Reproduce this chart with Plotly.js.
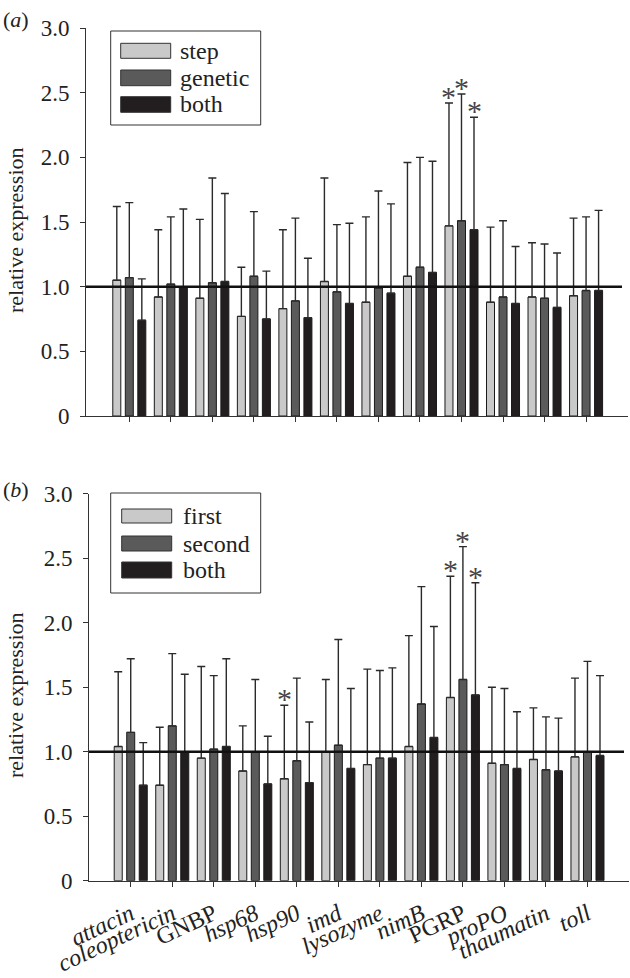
<!DOCTYPE html>
<html>
<head>
<meta charset="utf-8">
<script src="https://cdn.plot.ly/plotly-3.0.1.min.js"></script>
<style>html,body{margin:0;padding:0;background:#fff;}#chart{width:630px;height:978px;}</style>
</head>
<body>
<div id="chart"></div>
<script>
// ---------- data ----------
const categories = ['attacin','coleoptericin','GNBP','hsp68','hsp90','imd','lysozyme','nimB','PGRP','proPO','thaumatin','toll'];
const categoryLabels = ['<i>attacin</i>','<i>coleoptericin</i>','GNBP','<i>hsp68</i>','<i>hsp90</i>','<i>imd</i>','<i>lysozyme</i>','<i>nimB</i>','PGRP','<i>proPO</i>','<i>thaumatin</i>','<i>toll</i>'];
const yTickVals = [0, 0.5, 1.0, 1.5, 2.0, 2.5, 3.0];
const yTickText = ['0', '0.5', '1.0', '1.5', '2.0', '2.5', '3.0'];

// panel (a)
const seriesNamesA = ['step', 'genetic', 'both'];
const stepA      = [1.05, 0.92, 0.91, 0.77, 0.83, 1.04, 0.88, 1.08, 1.47, 0.88, 0.92, 0.93];
const stepA_hi   = [1.62, 1.44, 1.52, 1.15, 1.44, 1.84, 1.54, 1.96, 2.42, 1.46, 1.34, 1.53];
const geneticA   = [1.07, 1.02, 1.03, 1.08, 0.89, 0.96, 0.99, 1.15, 1.51, 0.92, 0.91, 0.97];
const geneticA_hi= [1.65, 1.54, 1.84, 1.58, 1.53, 1.48, 1.74, 2.00, 2.49, 1.51, 1.33, 1.54];
const bothA      = [0.74, 1.00, 1.04, 0.75, 0.76, 0.87, 0.95, 1.11, 1.44, 0.87, 0.84, 0.97];
const bothA_hi   = [1.06, 1.60, 1.72, 1.12, 1.22, 1.49, 1.64, 1.97, 2.31, 1.31, 1.26, 1.59];
const starsA     = [['PGRP'], ['PGRP'], ['PGRP']];   // significant categories per series

// panel (b)
const seriesNamesB = ['first', 'second', 'both'];
const firstB      = [1.04, 0.74, 0.95, 0.85, 0.79, 1.00, 0.90, 1.04, 1.42, 0.91, 0.94, 0.96];
const firstB_hi   = [1.62, 1.19, 1.66, 1.20, 1.36, 1.56, 1.64, 1.90, 2.36, 1.50, 1.34, 1.57];
const secondB     = [1.15, 1.20, 1.02, 1.00, 0.93, 1.05, 0.95, 1.37, 1.56, 0.90, 0.86, 1.00];
const secondB_hi  = [1.72, 1.76, 1.59, 1.56, 1.57, 1.87, 1.63, 2.28, 2.59, 1.49, 1.27, 1.70];
const bothB       = [0.74, 1.00, 1.04, 0.75, 0.76, 0.87, 0.95, 1.11, 1.44, 0.87, 0.85, 0.97];
const bothB_hi    = [1.07, 1.60, 1.72, 1.12, 1.23, 1.49, 1.65, 1.97, 2.31, 1.31, 1.26, 1.59];
const starsB      = [['hsp90', 'PGRP'], ['PGRP'], ['PGRP']];

const referenceLevel = 1.0;

// ---------- styling / layout helpers ----------
const W = 630, H = 978;
const FONT = '"Liberation Serif", "Times New Roman", Times, serif';
const COLORS = ['#c9c9c9', '#5a5a5a', '#221e1f'];
const px = x => x / W;
const py = y => 1 - y / H;
const BAR_PITCH = 12.8; // px between bar centers in a group (for asterisk placement)

function barTrace(name, vals, hi, color, xa, ya) {
  return {
    type: 'bar', name: name, x: categories, y: vals,
    xaxis: xa, yaxis: ya, showlegend: false,
    marker: {color: color, line: {color: '#1a1a1a', width: 1}},
    error_y: {
      type: 'data', symmetric: false,
      array: hi.map((h, i) => h - vals[i]),
      arrayminus: vals.map(() => 0),
      color: '#2a2a2a', thickness: 1.4, width: 4
    },
    hoverinfo: 'skip'
  };
}

const data = [
  barTrace(seriesNamesA[0], stepA, stepA_hi, COLORS[0], 'x', 'y'),
  barTrace(seriesNamesA[1], geneticA, geneticA_hi, COLORS[1], 'x', 'y'),
  barTrace(seriesNamesA[2], bothA, bothA_hi, COLORS[2], 'x', 'y'),
  barTrace(seriesNamesB[0], firstB, firstB_hi, COLORS[0], 'x2', 'y2'),
  barTrace(seriesNamesB[1], secondB, secondB_hi, COLORS[1], 'x2', 'y2'),
  barTrace(seriesNamesB[2], bothB, bothB_hi, COLORS[2], 'x2', 'y2')
];

const annotations = [];
const shapes = [];

function addStars(stars, his, xa, ya) {
  stars.forEach((cats, s) => {
    cats.forEach(c => {
      const i = categories.indexOf(c);
      annotations.push({
        x: c, y: his[s][i], xref: xa, yref: ya,
        text: '*', showarrow: false, yanchor: 'bottom', xanchor: 'center',
        xshift: (s - 1) * BAR_PITCH, yshift: -12,
        font: {family: FONT, size: 30, color: '#444444'}
      });
    });
  });
}
addStars(starsA, [stepA_hi, geneticA_hi, bothA_hi], 'x', 'y');
addStars(starsB, [firstB_hi, secondB_hi, bothB_hi], 'x2', 'y2');

// reference lines at 1.0
shapes.push({type: 'line', xref: 'paper', yref: 'y', x0: px(86), x1: px(622), y0: referenceLevel, y1: referenceLevel, line: {color: '#111', width: 2.5}, layer: 'above'});
shapes.push({type: 'line', xref: 'paper', yref: 'y2', x0: px(89), x1: px(624), y0: referenceLevel, y1: referenceLevel, line: {color: '#111', width: 2.5}, layer: 'above'});

// custom legends (wide swatches)
function addLegend(names, box, swX, swYs, textX) {
  shapes.push({type: 'rect', xref: 'paper', yref: 'paper', x0: px(box[0]), x1: px(box[2]), y0: py(box[3]), y1: py(box[1]), line: {color: '#333', width: 1}, fillcolor: 'rgba(255,255,255,1)', layer: 'above'});
  names.forEach((n, k) => {
    shapes.push({type: 'rect', xref: 'paper', yref: 'paper', x0: px(swX[0]), x1: px(swX[1]), y0: py(swYs[k][1]), y1: py(swYs[k][0]), line: {color: '#333', width: 1}, fillcolor: COLORS[k], layer: 'above'});
    annotations.push({xref: 'paper', yref: 'paper', x: px(textX), y: py((swYs[k][0] + swYs[k][1]) / 2), text: n, showarrow: false, xanchor: 'left', yanchor: 'middle', font: {family: FONT, size: 24, color: '#222'}});
  });
}
addLegend(seriesNamesA, [110.7, 31, 260.7, 125], [120.7, 170.7], [[43.3, 58.3], [70, 85.7], [96.7, 112.3]], 178);
addLegend(seriesNamesB, [110.7, 493, 260.7, 593], [121.7, 171.7], [[509, 523], [536, 551], [562, 578]], 181);

// panel labels and y titles
annotations.push({xref: 'paper', yref: 'paper', x: px(1), y: py(20), text: '(<i>a</i>)', showarrow: false, xanchor: 'left', yanchor: 'middle', font: {family: FONT, size: 22, color: '#222'}});
annotations.push({xref: 'paper', yref: 'paper', x: px(1), y: py(489), text: '(<i>b</i>)', showarrow: false, xanchor: 'left', yanchor: 'middle', font: {family: FONT, size: 22, color: '#222'}});
annotations.push({xref: 'paper', yref: 'paper', x: px(15), y: py(230), text: 'relative expression', textangle: -90, showarrow: false, xanchor: 'center', yanchor: 'middle', font: {family: FONT, size: 22, color: '#222'}});
annotations.push({xref: 'paper', yref: 'paper', x: px(15), y: py(695), text: 'relative expression', textangle: -90, showarrow: false, xanchor: 'center', yanchor: 'middle', font: {family: FONT, size: 22, color: '#222'}});

const xCommon = {
  type: 'category', showline: true, linecolor: '#333', linewidth: 1,
  ticks: 'outside', ticklen: 5, tickcolor: '#333', tickwidth: 1,
  showgrid: false, zeroline: false, fixedrange: true,
  tickvals: categories, ticktext: categoryLabels,
  tickfont: {family: FONT, size: 24, color: '#222'}
};
const yCommon = {
  range: [0, 3], showline: true, linecolor: '#333', linewidth: 1,
  ticks: 'outside', ticklen: 5, tickcolor: '#333', tickwidth: 1,
  showgrid: false, zeroline: false, fixedrange: true,
  tickvals: yTickVals, ticktext: yTickText, ticklabelstandoff: 6,
  tickfont: {family: FONT, size: 23, color: '#222'}
};

const layout = {
  width: W, height: H,
  margin: {l: 0, r: 0, t: 0, b: 0},
  paper_bgcolor: '#fff', plot_bgcolor: 'rgba(0,0,0,0)',
  barmode: 'group', bargap: 0.096, bargroupgap: 0.36,
  showlegend: false,
  font: {family: FONT, color: '#222'},
  xaxis: Object.assign({}, xCommon, {domain: [px(86), px(628)], anchor: 'y', range: [-1.043, 12.01], showticklabels: false}),
  yaxis: Object.assign({}, yCommon, {domain: [py(416), py(28)], anchor: 'x'}),
  xaxis2: Object.assign({}, xCommon, {domain: [px(89), px(629)], anchor: 'y2', range: [-1.005, 12.0], tickangle: -25, showticklabels: true, ticklabelstandoff: 4}),
  yaxis2: Object.assign({}, yCommon, {domain: [py(880.7), py(493.7)], anchor: 'x2'}),
  shapes: shapes,
  annotations: annotations
};

Plotly.newPlot('chart', data, layout, {staticPlot: true, displayModeBar: false});
</script>
</body>
</html>
